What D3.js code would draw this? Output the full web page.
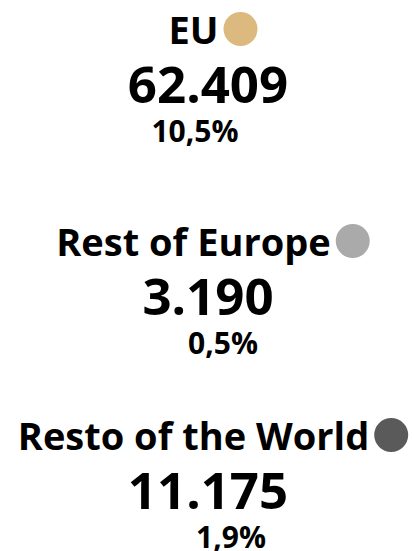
<!DOCTYPE html>
<html>
<head>
<meta charset="utf-8">
<script src="https://cdn.jsdelivr.net/npm/d3@7"></script>
<style>
  html, body { margin: 0; padding: 0; background: #fff; }
</style>
</head>
<body>
<div id="vis"></div>
<script>
// data
const regions = ["EU", "Rest of Europe", "Resto of the World"];
const totals = [62409, 3190, 11175];
const shares = [10.5, 0.5, 1.9];
const dotColors = ["#dbb97f", "#aaaaaa", "#5a5a5a"];

// layout (not data)
const width = 414, height = 551;
const rowBase = [44, 256, 450];     // label baselines
const pctNudge = [-13, 15, 23];     // small horizontal offsets of the % lines
const font = `"Open Sans", "Noto Sans", sans-serif`;
const cx = 208;

const fmtInt = d3.formatLocale({ decimal: ",", thousands: ".", grouping: [3], currency: ["", ""] }).format(",d");
const fmtPct = d => d.toFixed(1).replace(".", ",") + "%";

const rows = regions.map((r, i) => ({ region: r, total: totals[i], share: shares[i], color: dotColors[i], base: rowBase[i], nudge: pctNudge[i] }));

const svg = d3.select("#vis").append("svg")
    .attr("width", width)
    .attr("height", height)
    .style("display", "block");

const g = svg.selectAll("g.row")
    .data(rows)
    .enter()
    .append("g")
    .attr("class", "row")
    .attr("transform", d => "translate(0," + d.base + ")");

// label + dot, centred as a group
g.each(function (d) {
    const row = d3.select(this);
    const label = row.append("text")
        .attr("y", 0)
        .style("font-family", font)
        .style("font-weight", 700)
        .style("font-size", "38px")
        .attr("fill", "#000")
        .text(d.region);
    const w = label.node().getComputedTextLength();
    const r = 17, gap = 5;
    const total = w + gap + 2 * r;
    const x0 = cx + 5 - total / 2;
    label.attr("x", x0);
    row.append("circle")
        .attr("cx", x0 + w + gap + r)
        .attr("cy", -15)
        .attr("r", r)
        .attr("fill", d.color);
});

g.append("text")
    .attr("x", cx)
    .attr("y", 59)
    .attr("text-anchor", "middle")
    .style("font-family", font)
    .style("font-weight", 700)
    .style("font-size", "51px")
    .attr("fill", "#000")
    .text(d => fmtInt(d.total));

g.append("text")
    .attr("x", d => cx + d.nudge)
    .attr("y", 98)
    .attr("text-anchor", "middle")
    .style("font-family", font)
    .style("font-weight", 700)
    .style("font-size", "30px")
    .attr("fill", "#000")
    .text(d => fmtPct(d.share));
</script>
</body>
</html>
